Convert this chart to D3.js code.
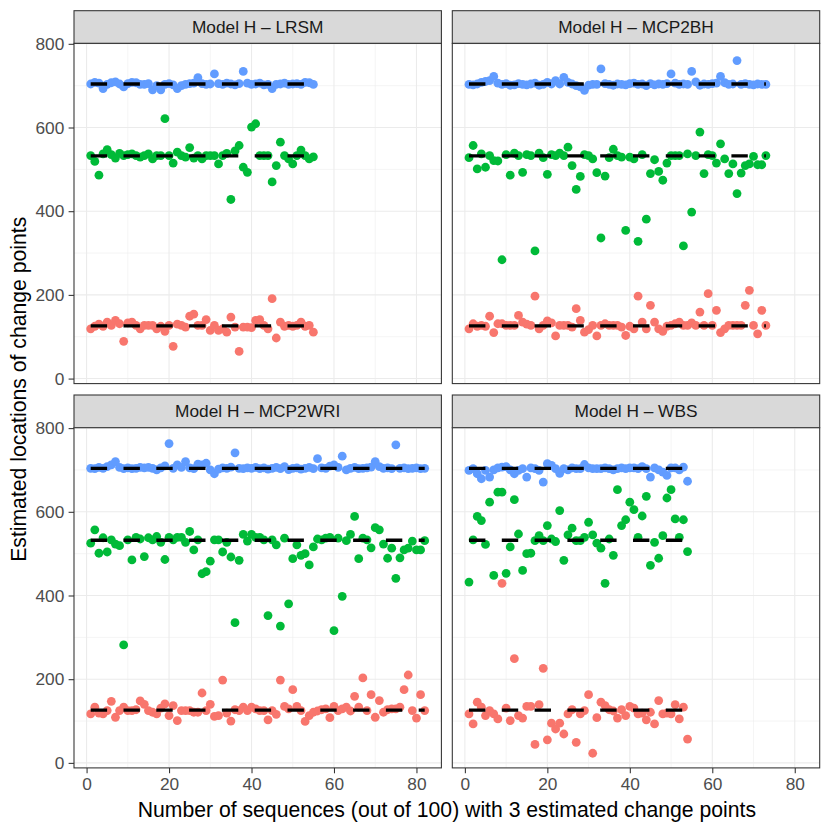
<!DOCTYPE html>
<html>
<head>
<meta charset="utf-8">
<script src="https://cdn.jsdelivr.net/npm/d3@7/dist/d3.min.js"></script>
<style>
  body { margin: 0; background: #fff; }
  svg { display: block; font-family: "Liberation Sans", Arial, Helvetica, sans-serif; }
</style>
</head>
<body>
<div id="chart"></div>
<script>
// estimated change-point locations, one value per sequence (x = 1..n)
const panelNames = ["Model H – LRSM", "Model H – MCP2BH", "Model H – MCP2WRI", "Model H – WBS"];
const trueChangePoints = [126, 532, 704];
const xTicks = [0, 20, 40, 60, 80];
const xMinor = [10, 30, 50, 70];
const yTicks = [0, 200, 400, 600, 800];
const yMinor = [100, 300, 500, 700];
const seriesColors = ["#F8766D", "#00BA38", "#619CFF"];

const lrsmRed = [119,125,130,125,135,127,139,131,89,133, 135,127,119,127,127,127,119,125,113,127,
  77,130,127,123,149,154,127,127,141,115, 127,115,119,111,147,123,65,123,123,122,
  139,141,127,119,191,97,135,125,127,125, 127,135,125,127,111];
const lrsmGreen = [533,519,486,537,547,535,527,538,533,535, 537,533,529,533,537,525,533,533,621,533,
  515,541,533,529,552,527,533,525,533,533, 533,513,533,538,428,544,557,505,493,601,
  609,533,533,533,470,509,565,533,525,513, 533,546,533,525,530];
const lrsmBlue = [704,708,706,693,703,707,709,704,697,705, 708,707,703,703,705,690,700,690,703,705,
  702,693,700,703,705,706,719,705,703,704, 728,705,703,706,704,702,705,734,706,703,
  704,706,702,703,693,703,704,706,703,704, 705,703,708,707,703];

const mcp2bhRed = [119,131,125,127,125,149,110,131,131,127, 127,127,151,135,130,127,197,119,127,138,
  133,102,127,127,127,123,167,139,111,117, 127,102,127,131,127,127,127,123,103,125,
  119,197,135,119,175,135,119,113,125,127, 131,135,127,127,133,127,159,127,203,127,
  163,110,119,127,127,127,127,175,211,127, 107,163,127];
const mcp2bhGreen = [528,557,501,537,505,533,521,520,284,535, 486,539,533,493,535,533,305,539,528,488,
  535,533,539,533,553,509,452,483,535,533, 525,492,336,484,528,548,533,529,354,529,
  525,328,535,381,490,523,495,474,515,533, 533,533,317,537,398,533,589,490,535,533,
  515,561,525,490,513,442,491,509,513,531, 511,511,533];
const mcp2bhBlue = [703,702,704,708,710,712,722,706,703,705, 701,702,705,703,702,704,706,701,703,708,
  704,712,704,720,708,704,700,697,689,701, 703,703,740,705,703,701,704,703,702,705,
  706,703,704,700,705,702,704,703,705,728, 706,703,704,703,734,709,701,704,703,705,
  706,722,707,703,704,760,703,705,703,702, 704,703,703];

const mcp2wriRed = [117,133,119,117,125,147,109,125,133,125, 125,127,148,140,125,121,117,131,141,113,
  137,101,125,125,125,121,121,167,125,140, 111,113,198,119,100,127,125,133,125,133,
  129,125,125,103,125,116,198,135,129,175, 135,125,99,113,121,124,127,129,108,135,
  125,129,133,124,159,133,203,125,163,109, 149,121,127,129,129,133,175,210,125,107,
  163,125];
const mcp2wriGreen = [525,557,501,538,504,533,523,519,282,533, 485,539,535,493,538,533,541,527,486,539,
  533,539,539,527,553,509,533,452,457,482, 533,533,504,527,492,335,484,546,530,546,
  539,539,533,352,533,521,327,537,380,488, 521,496,500,473,516,535,533,537,539,316,
  537,398,531,546,589,488,537,533,514,562, 557,523,489,513,441,490,509,513,530,509,
  509,531];
const mcp2wriBlue = [704,703,706,704,708,712,720,706,703,705, 703,704,706,705,706,704,700,705,710,763,
  704,712,706,720,705,703,714,712,716,700, 691,702,705,704,707,741,704,703,705,704,
  706,703,705,702,704,706,703,708,701,704, 705,702,704,706,703,727,705,704,709,712,
  706,733,700,704,706,703,704,705,707,720, 708,704,705,703,760,704,705,703,704,705,
  703,704];

const wbsRed = [117,93,145,133,113,125,117,105,429,131, 101,249,113,107,135,135,44,139,226,55,
  95,81,95,69,117,127,49,117,125,163, 23,108,145,137,127,124,107,127,113,135,
  131,117,119,103,121,93,149,117,119,117, 139,105,133,57];
const wbsGreen = [432,533,589,579,522,623,448,647,647,453, 516,629,547,460,500,501,531,543,531,567,
  535,529,603,484,545,561,531,531,539,575, 545,525,513,429,535,496,653,567,581,623,
  605,539,590,637,472,527,489,543,633,653, 583,539,581,505];
const wbsBlue = [699,703,691,679,699,683,700,705,707,708, 700,691,699,703,683,705,703,699,671,715,
  711,703,692,703,700,705,703,703,713,705, 703,703,703,705,703,700,703,705,703,705,
  705,703,708,703,683,705,700,695,687,705, 705,700,707,673];

const panelSeries = [
  [lrsmRed, lrsmGreen, lrsmBlue],
  [mcp2bhRed, mcp2bhGreen, mcp2bhBlue],
  [mcp2wriRed, mcp2wriGreen, mcp2wriBlue],
  [wbsRed, wbsGreen, wbsBlue],
];

const width = 830, height = 830;
const colLeft = [74, 452.3];
const stripTop = [10.7, 395];
const panelW = 367.4, stripH = 32.7, panelH = 340.2;
const fontTick = 17.3, fontTitle = 21.2;

const x = d3.scaleLinear().domain([-3.05, 86.05]).range([0, panelW]);
const y = d3.scaleLinear().domain([-12, 801]).range([panelH, 0]);

const svg = d3.select("#chart").append("svg")
  .attr("width", width).attr("height", height)
  .attr("viewBox", `0 0 ${width} ${height}`);

svg.append("rect").attr("width", width).attr("height", height).attr("fill", "#fff");

panelNames.forEach((name, p) => {
  const col = p % 2, row = Math.floor(p / 2);
  const left = colLeft[col], top = stripTop[row] + stripH;

  // strip
  const strip = svg.append("g").attr("transform", `translate(${left},${stripTop[row]})`);
  strip.append("rect").attr("width", panelW).attr("height", stripH)
    .attr("fill", "#D9D9D9").attr("stroke", "#333333").attr("stroke-width", 1.07);
  strip.append("text").attr("x", panelW / 2).attr("y", stripH / 2).attr("dy", "0.35em")
    .attr("text-anchor", "middle").attr("font-size", fontTick).attr("fill", "#1A1A1A").text(name);

  const g = svg.append("g").attr("transform", `translate(${left},${top})`);
  g.append("rect").attr("width", panelW).attr("height", panelH).attr("fill", "#fff");

  // grid
  const grid = g.append("g").attr("stroke", "#EBEBEB");
  xMinor.forEach(v => grid.append("line").attr("x1", x(v)).attr("x2", x(v)).attr("y1", 0).attr("y2", panelH).attr("stroke-width", 0.55));
  yMinor.forEach(v => grid.append("line").attr("y1", y(v)).attr("y2", y(v)).attr("x1", 0).attr("x2", panelW).attr("stroke-width", 0.55));
  xTicks.forEach(v => grid.append("line").attr("x1", x(v)).attr("x2", x(v)).attr("y1", 0).attr("y2", panelH).attr("stroke-width", 1.07));
  yTicks.forEach(v => grid.append("line").attr("y1", y(v)).attr("y2", y(v)).attr("x1", 0).attr("x2", panelW).attr("stroke-width", 1.07));

  // points
  const series = panelSeries[p];
  series.forEach((vals, s) => {
    g.append("g").selectAll("circle").data(vals).join("circle")
      .attr("cx", (d, i) => x(i + 1))
      .attr("cy", d => y(d))
      .attr("r", 4.4)
      .attr("fill", seriesColors[s]);
  });

  // true change points, dashed from the first to the last sequence
  const n = series[0].length;
  trueChangePoints.forEach(v => {
    g.append("line")
      .attr("x1", x(1)).attr("x2", x(n))
      .attr("y1", y(v)).attr("y2", y(v))
      .attr("stroke", "#000").attr("stroke-width", 3.3)
      .attr("stroke-dasharray", "16.4 16.4");
  });

  g.append("rect").attr("width", panelW).attr("height", panelH)
    .attr("fill", "none").attr("stroke", "#333333").attr("stroke-width", 1.07);

  if (col === 0) {
    g.append("g")
      .call(d3.axisLeft(y).tickValues(yTicks).tickSize(5.4).tickPadding(4.3))
      .call(a => a.select(".domain").remove())
      .call(a => a.selectAll("line").attr("stroke", "#333333").attr("stroke-width", 1.07))
      .call(a => a.selectAll("text").attr("fill", "#4D4D4D").attr("font-size", fontTick)
        .attr("font-family", null));
  }
  if (row === 1) {
    g.append("g").attr("transform", `translate(0,${panelH})`)
      .call(d3.axisBottom(x).tickValues(xTicks).tickSize(5.4).tickPadding(4.3))
      .call(a => a.select(".domain").remove())
      .call(a => a.selectAll("line").attr("stroke", "#333333").attr("stroke-width", 1.07))
      .call(a => a.selectAll("text").attr("fill", "#4D4D4D").attr("font-size", fontTick)
        .attr("font-family", null));
  }
});

// axis titles
const plotLeft = colLeft[0], plotRight = colLeft[1] + panelW;
svg.append("text")
  .attr("x", (plotLeft + plotRight) / 2).attr("y", 817)
  .attr("text-anchor", "middle").attr("font-size", fontTitle).attr("fill", "#000")
  .text("Number of sequences (out of 100) with 3 estimated change points");

const plotTop = stripTop[0], plotBottom = stripTop[1] + stripH + panelH;
svg.append("text")
  .attr("transform", `translate(26,${(plotTop + plotBottom) / 2}) rotate(-90)`)
  .attr("text-anchor", "middle").attr("font-size", fontTitle).attr("fill", "#000")
  .text("Estimated locations of change points");
</script>
</body>
</html>
